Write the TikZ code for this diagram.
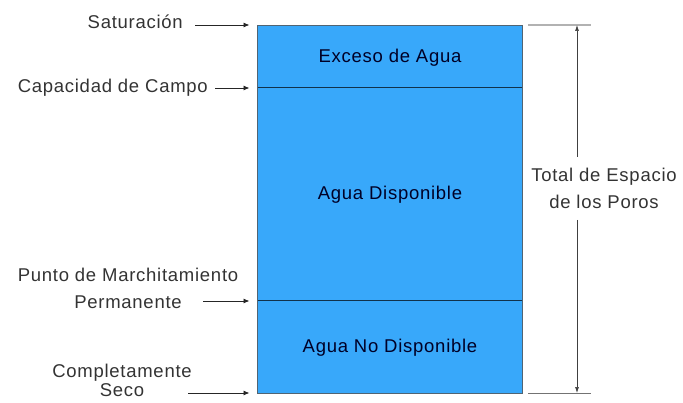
\documentclass[tikz,border=0pt]{standalone}
\usepackage{fontspec}
\setmainfont[LetterSpace=4]{Liberation Sans}
\usetikzlibrary{arrows.meta}
\definecolor{pore}{RGB}{56,168,250}
\definecolor{labelgray}{RGB}{51,51,51}
\definecolor{edgegray}{RGB}{80,100,115}
\tikzset{
  lab/.style={text=labelgray, font=\fontsize{18.5}{27}\selectfont, align=center, inner sep=0pt},
  inlab/.style={text=black!85!blue, font=\fontsize{18.5}{27}\selectfont, inner sep=0pt},
  lvl/.style={-{Latex[length=6pt,width=5pt]}, line width=0.9pt, draw=black!85},
  dim/.style={-{Latex[length=6pt,width=4pt]}, line width=0.7pt, draw=black!75}
}
\begin{document}
\begin{tikzpicture}[x=1pt,y=1pt]
		%%%%% START %%%%%
		\useasboundingbox (0,0) rectangle (683,402);
		
		\draw[fill=pore, draw=edgegray, line width=0.8pt] (257.5,9) rectangle (522,377);
		\draw[line width=1pt, draw=black!70!pore] (257.5,314) -- (522,314);
		\draw[line width=1pt, draw=black!70!pore] (257.5,101) -- (522,101);
		
		\coordinate (sat) at (257.5,377);
		\coordinate (cc) at (257.5,314);
		\coordinate (pmp) at (257.5,101);
		\coordinate (seco) at (257.5,9);
		
		\node[inlab] (exceso) at (390,344) {Exceso de Agua};
		\node[inlab] (disp) at (390,207) {Agua Disponible};
		\node[inlab] (nodisp) at (390,54) {Agua No Disponible};
		
		\node[lab, anchor=east] (satlab) at (183,380) {Saturación};
		\node[lab, anchor=east] (cclab) at (208,314) {Capacidad de Campo};
		\node[lab] (pmplab) at (128,113.5) {Punto de Marchitamiento\\Permanente};
		\node[lab, font=\fontsize{18.5}{19}\selectfont] (secolab) at (122,21.5) {Completamente\\Seco};
		
		\coordinate (satA) at (195,377);
		\coordinate (ccA) at (215,314);
		\coordinate (pmpA) at (203,101);
		\coordinate (secoA) at (188,9);
		\draw[lvl] (satA) -- ([xshift=-8pt]sat);
		\draw[lvl] (ccA) -- ([xshift=-8pt]cc);
		\draw[lvl] (pmpA) -- ([xshift=-8pt]pmp);
		\draw[lvl] (secoA) -- ([xshift=-8pt]seco);
		
		\draw[line width=1.2pt, draw=black!30] (528,377) -- (591,377);
		\draw[line width=0.8pt, draw=black!55] (528,9) -- (591,9);
		
		\node[lab] (total) at (604,213.5) {Total de Espacio\\de los Poros};
		\coordinate (topend) at (577,377);
		\coordinate (botend) at (577,9);
		\draw[dim] (577,245) -- (topend);
		\draw[dim] (577,182) -- (botend);
		%%%%% END %%%%%
\end{tikzpicture}
\end{document}
